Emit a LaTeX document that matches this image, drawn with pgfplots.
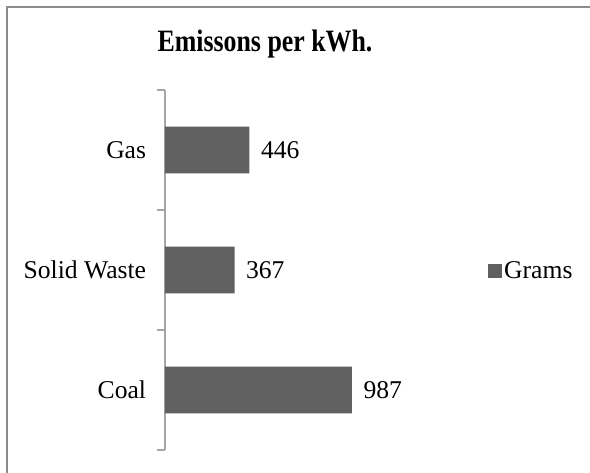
\documentclass[border=0pt]{standalone}
\usepackage{fontspec}
\setmainfont{Liberation Serif}
\usepackage{graphicx}
\usepackage{pgfplots}
\pgfplotsset{compat=1.18}
\definecolor{barfill}{HTML}{606060}
\definecolor{axisgray}{HTML}{A6A6A6}
\definecolor{framegray}{HTML}{8C8C8C}
\newcommand\txt{\fontsize{19.2}{21}\selectfont}
\begin{document}
\begin{tikzpicture}[x=0.75pt,y=-0.75pt]
\useasboundingbox (0,0) rectangle (590,473);
% chart frame (left and top edges only are visible)
\draw[framegray, line width=1.5pt] (7,473) -- (7,7) -- (590,7);
\node[anchor=base, inner sep=0pt, font=\fontsize{19.4}{21}\selectfont\bfseries] at (265,52) {\scalebox{1}[1.2]{Emissons per kWh.}};
\coordinate (o) at (165,450);
\begin{axis}[
  at={(o)}, anchor=south west,
  scale only axis, width=174pt, height=270pt,
  xbar, bar width=35pt,
  xmin=0, xmax=1225, ymin=-0.5, ymax=2.5,
  axis x line=none, axis y line*=left,
  y axis line style={axisgray, line width=1pt, -},
  ytick={0,1,2}, yticklabels={Coal,Solid Waste,Gas},
  major tick length=0pt,
  minor ytick={-0.5,0.5,1.5,2.5},
  minor tick length=6pt, tick align=outside,
  minor tick style={axisgray, line width=1pt},
  yticklabel style={font=\txt, inner sep=0pt, xshift=-14pt},
  /pgf/number format/assume math mode=true,
  nodes near coords,
  every node near coord/.append style={font=\txt, anchor=west, inner sep=0pt, xshift=8.5pt, black},
  legend style={at={(1.372,0.497)}, anchor=west, draw=none, fill=none, font=\txt},
  legend cell align=left,
  legend image code/.code={\fill[barfill] (0pt,-5.25pt) rectangle (10.5pt,5.25pt);},
]
\addplot[fill=barfill, draw=none] coordinates {(987,0) (367,1) (446,2)};
\legend{Grams}
\end{axis}
\end{tikzpicture}
\end{document}
